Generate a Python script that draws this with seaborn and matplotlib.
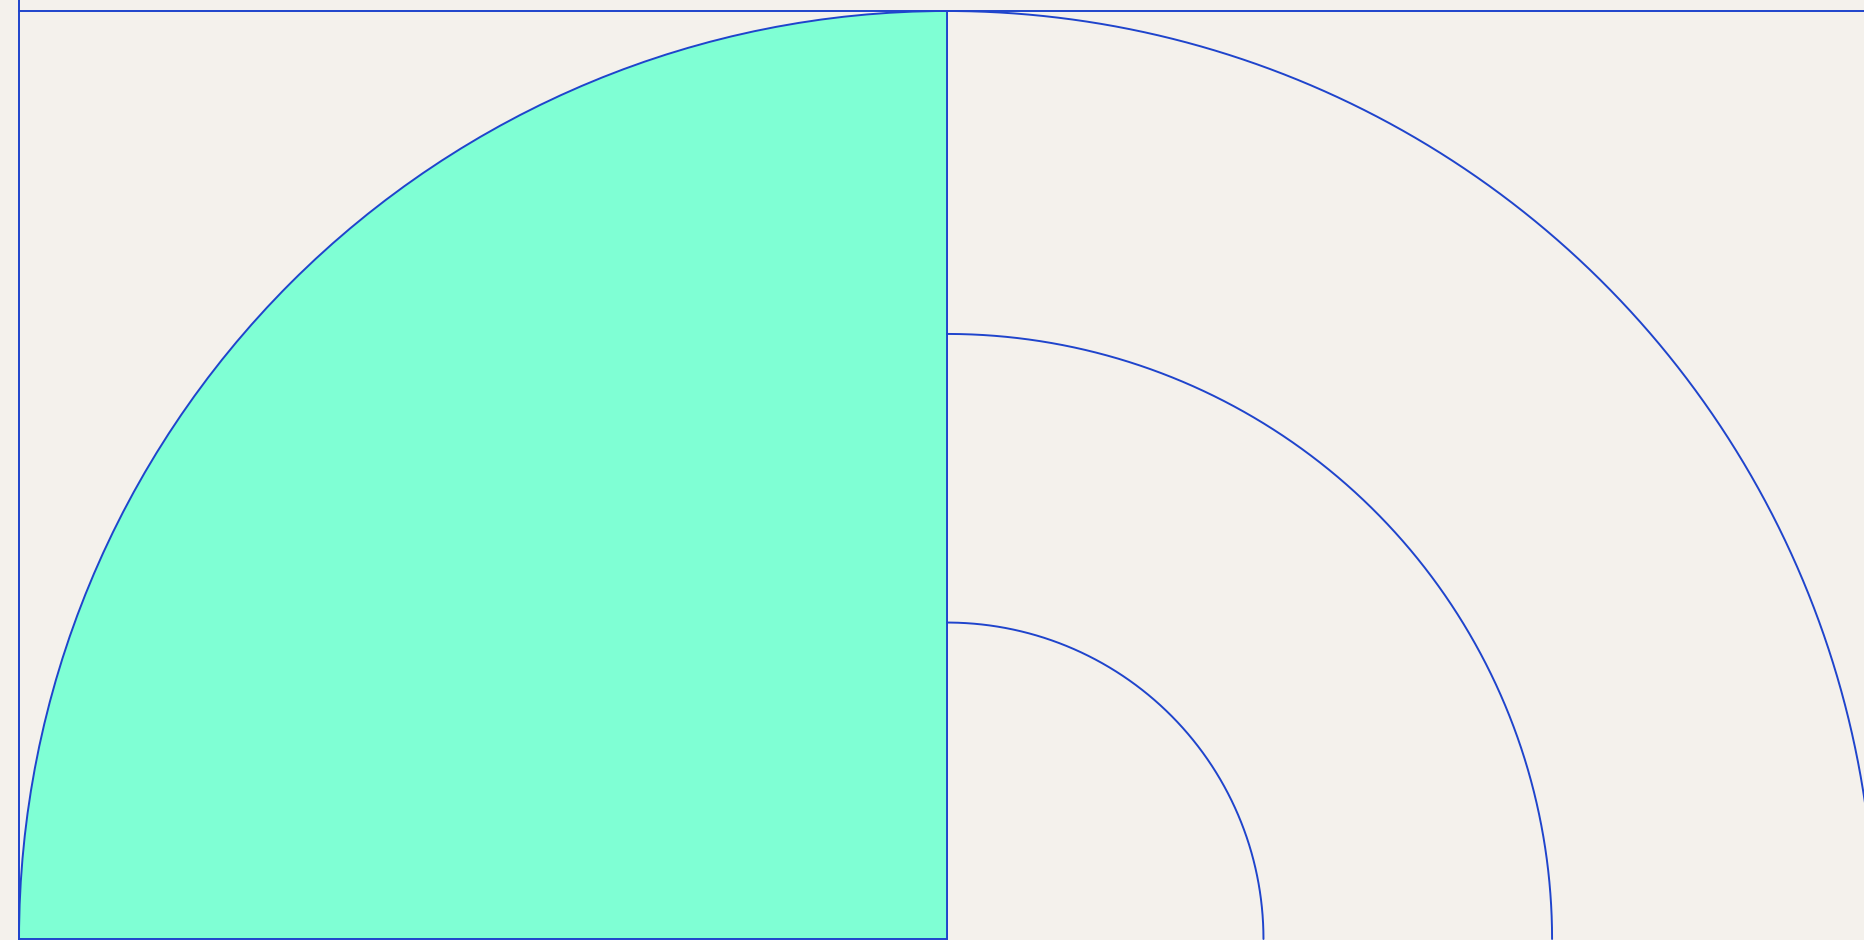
import numpy as np
import pandas as pd
import matplotlib
matplotlib.use("Agg")
import matplotlib.pyplot as plt
import seaborn as sns
from matplotlib.patches import Wedge

# data: radii of the rings (relative to the filled quarter)
ring_labels = ["outer", "middle", "inner"]
ring_radius = [1.0, 0.652, 0.341]
filled_radius = 1.0

BG = "#f4f1ec"
LINE = "#1f44cc"
FILL = "#7fffd4"

sns.set_theme(style="white", rc={"axes.facecolor": BG, "figure.facecolor": BG})

fig = plt.figure(figsize=(18.65, 9.40), dpi=100)
ax = fig.add_axes([0, 0, 1, 1])
ax.set_facecolor(BG)

# filled quarter (left-upper quadrant)
ax.add_patch(Wedge((0, 0), filled_radius, 90, 180, facecolor=FILL,
                   edgecolor=LINE, linewidth=1.4, zorder=2))

# open arcs on the right (upper-right quadrant)
theta = np.linspace(0, np.pi / 2, 500)
rows = []
for lab, r in zip(ring_labels, ring_radius):
    for i, t in enumerate(theta):
        rows.append({"ring": lab, "order": i, "x": r * np.cos(t), "y": r * np.sin(t)})
df = pd.DataFrame(rows)
sns.lineplot(data=df, x="x", y="y", units="ring", estimator=None, sort=False,
             color=LINE, linewidth=1.4, ax=ax, legend=False, zorder=3)

# frame lines: left vertical and top horizontal
ax.axvline(-filled_radius, color=LINE, linewidth=1.4, zorder=4)
ax.plot([-filled_radius, 2.0], [filled_radius, filled_radius], color=LINE,
        linewidth=1.4, zorder=4)

ax.set_xlim(-1.0205, 0.9892)
ax.set_ylim(-0.00108, 1.01185)
ax.set_aspect("auto")
ax.axis("off")

fig.savefig("out.png", dpi=100, facecolor=BG)
